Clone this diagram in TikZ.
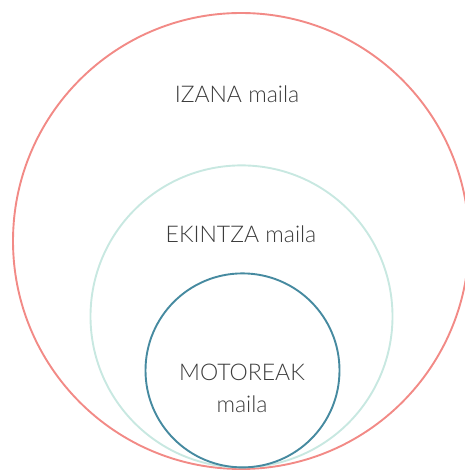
\documentclass[tikz,border=0pt]{standalone}
\usepackage{fontspec}
\setmainfont{Lato}[UprightFont=* Light]
\definecolor{outerc}{RGB}{242,138,134}
\definecolor{midc}{RGB}{200,232,225}
\definecolor{innerc}{RGB}{70,138,160}
\definecolor{txt}{RGB}{60,60,60}
\begin{document}
\begin{tikzpicture}[x=1pt,y=1pt,
  ring/.style={line width=1.9pt},
  lbl/.style={text=txt,font=\fontsize{23}{32}\selectfont,inner sep=0pt,align=center}]
\useasboundingbox (0,0) rectangle (465,471);
\begin{scope}
\clip (0,0) rectangle (465,471);
\node[ring,draw=outerc,circle,minimum size=456pt,inner sep=0pt] (outer) at (241,230) {};
\node[ring,draw=midc,circle,minimum size=302pt,inner sep=0pt] (mid) at (241.5,154.6) {};
\node[ring,draw=innerc,circle,minimum size=194pt,inner sep=0pt] (inner) at (242.5,100.6) {};
\end{scope}
\node[lbl] (t1) at (237,377) {IZANA maila};
\node[lbl] (t2) at (241,237) {EKINTZA maila};
\node[lbl] (t3) at (242,83) {MOTOREAK\\maila};
\end{tikzpicture}
\end{document}
